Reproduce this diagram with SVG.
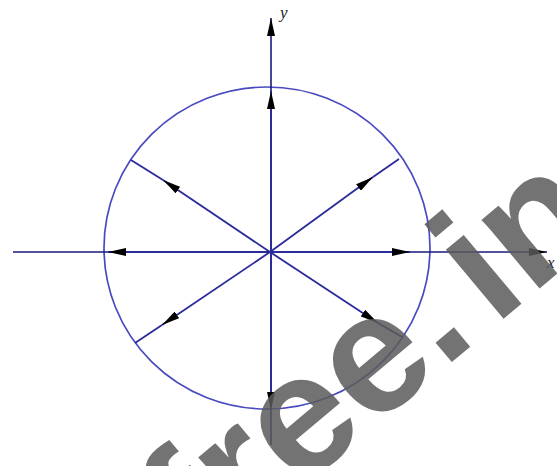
<svg xmlns="http://www.w3.org/2000/svg" width="557" height="466" viewBox="0 0 557 466">
<defs>
<style>
.ax{stroke:#1a1a7a;stroke-width:1.6;fill:none}
.sp{stroke:#2a2a9a;stroke-width:1.8;fill:none}
.circ{stroke:#4a4ac0;stroke-width:1.7;fill:none}
.lbl{font-family:"Liberation Sans",Arial,sans-serif;font-style:italic;font-size:17px;fill:#222}
.lbl{font-family:"Liberation Serif",serif}
.wm{font-family:"Liberation Sans",Arial,sans-serif;font-weight:bold;font-size:170px;fill:#5a5a5a;fill-opacity:0.85}
</style>
<marker id="ah" viewBox="0 0 18 8" refX="18" refY="4" markerWidth="18" markerHeight="8" markerUnits="userSpaceOnUse" orient="auto">
<path d="M0,0 L18,4 L0,8 Z" fill="#000"/>
</marker>
</defs>
<rect width="557" height="466" fill="#fff"/>
<g id="circle"><ellipse class="circ" cx="267" cy="248" rx="163" ry="161"/></g>
<g id="axes">
<line class="ax" x1="13" y1="252" x2="547" y2="252" marker-end="url(#ah)"/>
<line class="ax" x1="271" y1="445" x2="271" y2="18" marker-end="url(#ah)"/>
</g>
<g id="connectors">
<line class="sp" x1="270" y1="252" x2="108" y2="252" marker-end="url(#ah)"/>
<line class="sp" x1="270" y1="252" x2="410" y2="252" marker-end="url(#ah)"/>
<line class="sp" x1="271" y1="252" x2="271" y2="91" marker-end="url(#ah)"/>
<line class="sp" x1="271" y1="252" x2="271" y2="410" marker-end="url(#ah)"/>
<line class="sp" x1="270" y1="252" x2="163" y2="180" marker-end="url(#ah)"/>
<line class="sp" x1="163" y1="180" x2="131" y2="160"/>
<line class="sp" x1="270" y1="252" x2="373" y2="177" marker-end="url(#ah)"/>
<line class="sp" x1="373" y1="177" x2="399" y2="159"/>
<line class="sp" x1="270" y1="252" x2="378" y2="323" marker-end="url(#ah)"/>
<line class="sp" x1="378" y1="323" x2="402" y2="337"/>
<line class="sp" x1="270" y1="252" x2="162" y2="325" marker-end="url(#ah)"/>
<line class="sp" x1="162" y1="325" x2="135" y2="343"/>
</g>
<g id="labels">
<text class="lbl" x="280" y="18" font-style="italic">y</text>
<text class="lbl" x="547" y="268" font-style="italic">x</text>
</g>
<g id="watermark">
<text class="wm" transform="translate(204,570) rotate(-40)">free.<tspan dx="20">in</tspan></text>
</g>
</svg>
